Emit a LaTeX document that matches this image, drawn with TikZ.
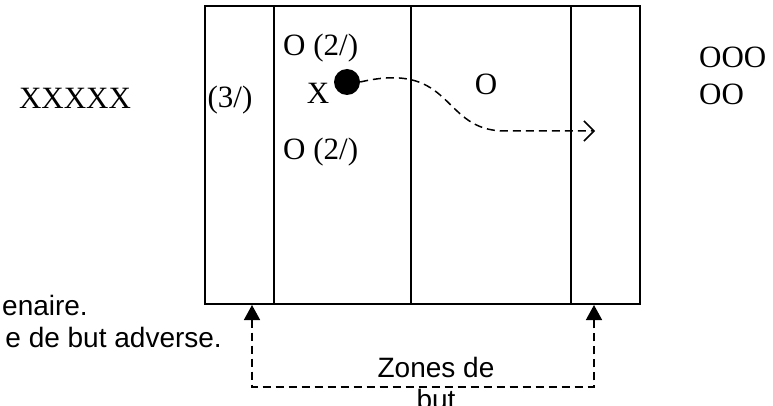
\documentclass[tikz,border=0pt]{standalone}
\usepackage{fontspec}
\setmainfont{Liberation Serif}
\setsansfont{Liberation Sans}
\usetikzlibrary{arrows.meta}
\definecolor{fink}{HTML}{000000}
\tikzset{
  zoneline/.style={fink,line width=1.7pt},
  runline/.style={fink,line width=1.5pt,dash pattern=on 8pt off 5pt},
  player/.style={font=\fontsize{31}{37}\selectfont,text=fink,inner sep=0pt},
  note/.style={font=\sffamily\fontsize{28}{32}\selectfont,text=fink,inner sep=0pt}
}

\begin{document}
\begin{tikzpicture}[x=1pt,y=-1pt]
  \useasboundingbox (0,0) rectangle (773,406);

  % the field and its zones
  \draw[zoneline] (205,6) rectangle (640,304);
  \draw[zoneline] (274,6) -- (274,304);
  \draw[zoneline] (411,6) -- (411,304);
  \draw[zoneline] (571,6) -- (571,304);

  % players
  \node[player] (attack) at (75,98) {XXXXX};
  \node[player] (deep) at (230,100) {(3/)};
  \node[player,anchor=west] (wingtop) at (283,48) {O (2/)};
  \node[player] (carrier) at (318,93) {X};
  \node[circle,fill=fink,minimum size=26pt,inner sep=0pt] (ball) at (347,82) {};
  \node[player,anchor=west] (wingbot) at (283,152) {O (2/)};
  \node[player] (middef) at (486,84) {O};
  \node[player,anchor=north west,align=left] (defence) at (699,47) {OOO\\OO};

  % run of the ball carrier
  \coordinate (runend) at (595,131);
  \draw[runline,-{Straight Barb[length=10pt,width=20pt,line width=1.5pt]}]
    (ball.east) .. controls (455,60) and (440,131) .. (505,131) -- (runend);

  % goal zones
  \coordinate (goalL) at (252,305);
  \coordinate (goalR) at (594,305);
  \draw[runline,{Triangle[length=15pt,width=16pt]}-{Triangle[length=15pt,width=16pt]}]
    (goalL) -- ++(0,82) -| (goalR);
  \node[note,align=center,anchor=north] (goallbl) at (436,357) {Zones de\\but};

  % cut text on the left
  \node[note,anchor=base east] (legA) at (88,315) {enaire.};
  \node[note,anchor=base east] (legB) at (222,347) {e de but adverse.};
\end{tikzpicture}
\end{document}
